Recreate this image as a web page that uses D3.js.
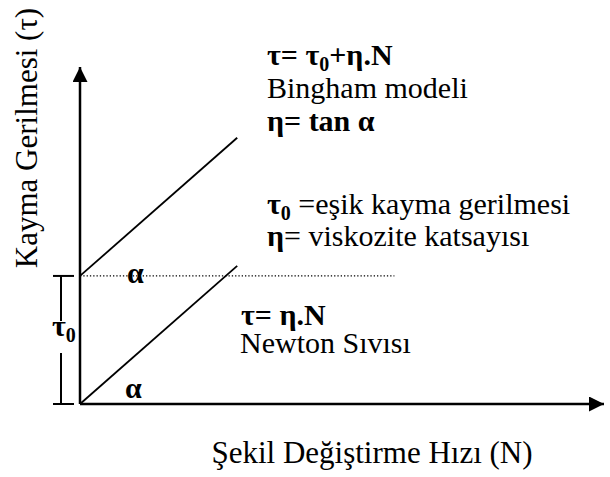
<!DOCTYPE html>
<meta charset="utf-8">
<body style="margin:0">
<svg width="610" height="477"></svg>
<script src="https://d3js.org/d3.v7.min.js"></script>
<script>

var svg = d3.select("svg");

// shear rate (N) and shear stress (tau) in arbitrary units
var xDomain = [0, 100];
var yDomain = [0, 100];
var tau0 = 38;
var newtonLine  = [{N: 0, tau: 0},  {N: 30, tau: 41}];
var binghamLine = [{N: 0, tau: 38}, {N: 30, tau: 79}];
var yieldLine   = [{N: 0, tau: 38}, {N: 60, tau: 38}];

var xLabel = "Şekil Değiştirme Hızı (N)";
var yLabel = "Kayma Gerilmesi (τ)";

var x = d3.scaleLinear().domain(xDomain).range([80, 604]);
var y = d3.scaleLinear().domain(yDomain).range([404, 67]);

var line = d3.line()
    .x(function(d) { return x(d.N); })
    .y(function(d) { return y(d.tau); });

// arrow heads
svg.append("defs").append("marker")
    .attr("id", "arrow")
    .attr("viewBox", "0 0 15 15")
    .attr("refX", 15).attr("refY", 7.5)
    .attr("markerWidth", 15).attr("markerHeight", 15)
    .attr("markerUnits", "userSpaceOnUse")
    .attr("orient", "auto")
  .append("path")
    .attr("d", "M0,0 L15,7.5 L0,15 Z")
    .attr("fill", "#000");

// axes
svg.append("line")
    .attr("x1", x(0)).attr("y1", y(0))
    .attr("x2", x(xDomain[1])).attr("y2", y(0))
    .attr("stroke", "#000").attr("stroke-width", 2.5)
    .attr("marker-end", "url(#arrow)");

svg.append("line")
    .attr("x1", x(0)).attr("y1", y(0))
    .attr("x2", x(0)).attr("y2", y(yDomain[1]))
    .attr("stroke", "#000").attr("stroke-width", 2.5)
    .attr("marker-end", "url(#arrow)");

// yield stress dotted line
svg.append("path")
    .datum(yieldLine)
    .attr("d", line)
    .attr("fill", "none")
    .attr("stroke", "#000")
    .attr("stroke-width", 1.3)
    .attr("stroke-dasharray", "1.3,2");

// model lines
[newtonLine, binghamLine].forEach(function(data) {
    svg.append("path")
        .datum(data)
        .attr("d", line)
        .attr("fill", "none")
        .attr("stroke", "#000")
        .attr("stroke-width", 1.8);
});

// tau0 bracket
var bx = x(0) - 19;
function seg(x1, y1, x2, y2) {
    svg.append("line").attr("x1", x1).attr("y1", y1).attr("x2", x2).attr("y2", y2)
        .attr("stroke", "#000").attr("stroke-width", 2);
}
seg(bx - 8, y(tau0), bx + 13, y(tau0));
seg(bx - 8, y(0), bx + 13, y(0));
seg(bx, y(tau0), bx, y(tau0) + 45);
seg(bx, y(0) - 51, bx, y(0));

// one text element per run so the font is picked per element
function textLine(xp, yp, parts) {
    var cx = xp;
    parts.forEach(function(p) {
        var size = p.sub ? 20 : 30;
        var t = svg.append("text")
            .attr("x", cx)
            .attr("y", p.sub ? yp + 6 : yp)
            .style("font-family", "'Liberation Serif'")
            .style("font-size", size + "px")
            .style("font-weight", p.b ? "bold" : "normal")
            .text(p.t);
        cx += t.node().getComputedTextLength();
    });
}

textLine(bx - 9, y(tau0) + 60, [{t: "τ", b: 1}, {t: "0", b: 1, sub: 1}]);

// angle labels
textLine(127, y(tau0) + 7, [{t: "α", b: 1}]);
textLine(125, y(0) - 6, [{t: "α", b: 1}]);

// Bingham annotations
textLine(267, 65, [{t: "τ= τ", b: 1}, {t: "0", b: 1, sub: 1}, {t: "+η.N", b: 1}]);
textLine(267, 98, [{t: "Bingham modeli"}]);
textLine(267, 131, [{t: "η= tan α", b: 1}]);

textLine(267, 214, [{t: "τ", b: 1}, {t: "0", b: 1, sub: 1}, {t: "\u00a0=eşik kayma gerilmesi"}]);
textLine(267, 246, [{t: "η", b: 1}, {t: "= viskozite katsayısı"}]);

// Newton annotations
textLine(241, 325, [{t: "τ= η.N", b: 1}]);
textLine(240, 353, [{t: "Newton Sıvısı"}]);

// axis titles
svg.append("text")
    .attr("x", 372).attr("y", 463)
    .attr("text-anchor", "middle")
    .style("font-family", "'Liberation Serif'")
    .style("font-size", "31px")
    .text(xLabel);

svg.append("text")
    .attr("transform", "translate(37,138) rotate(-90)")
    .attr("text-anchor", "middle")
    .style("font-family", "'Liberation Serif'")
    .style("font-size", "31px")
    .text(yLabel);

</script>
</body>
